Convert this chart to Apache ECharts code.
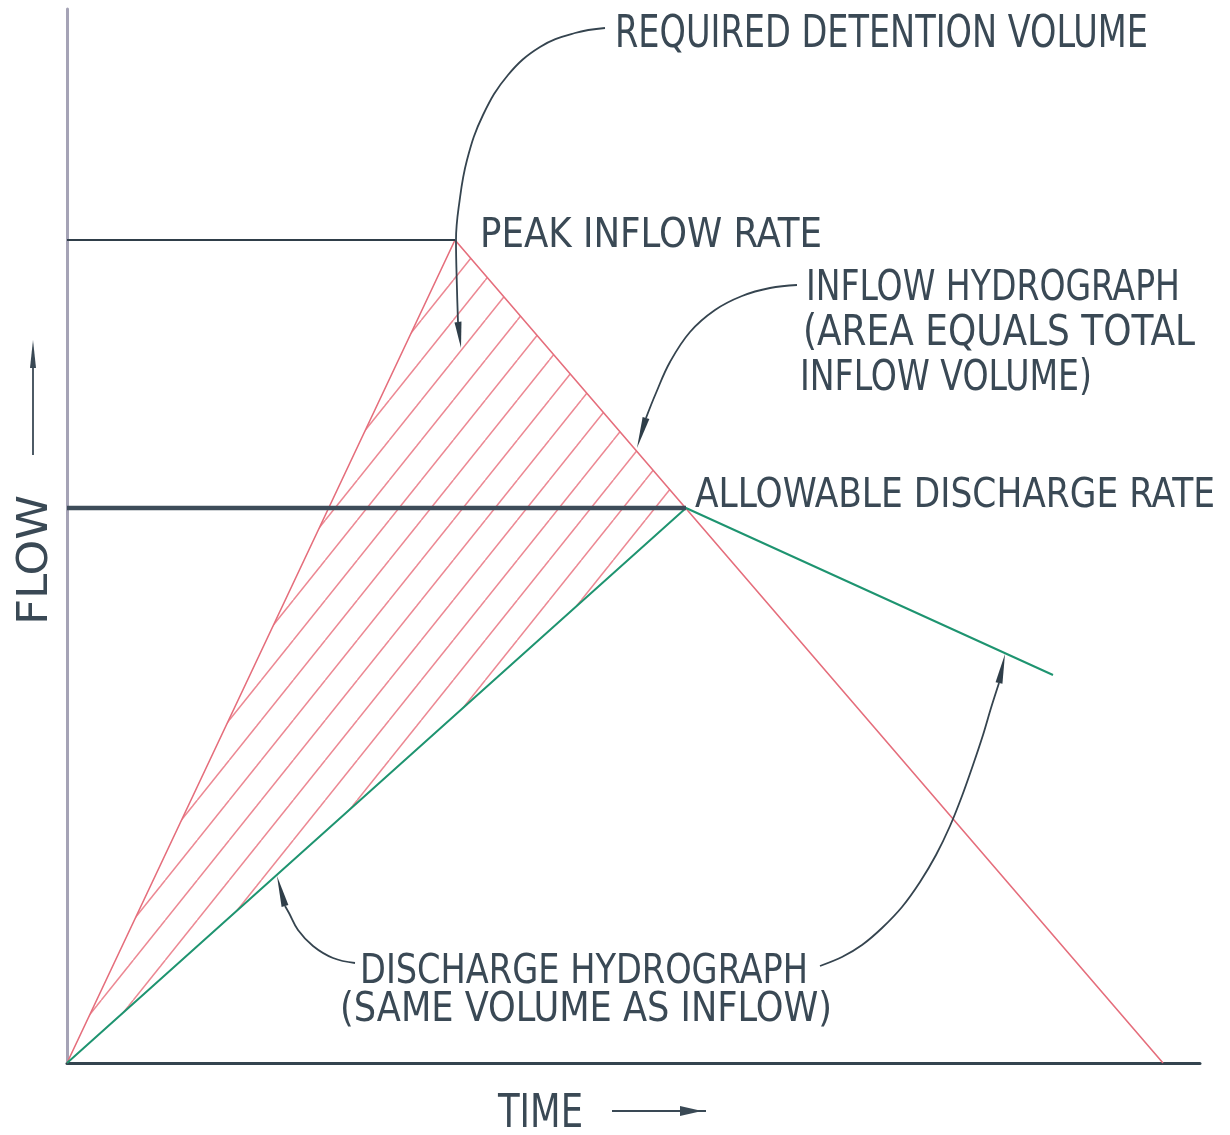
<!DOCTYPE html>
<html><head><meta charset="utf-8">
<script src="https://cdn.jsdelivr.net/npm/echarts@6/dist/echarts.min.js"></script>
<style>html,body{margin:0;padding:0;background:#fff}#c{width:1230px;height:1135px}</style>
</head><body><div id="c"></div>
<script>
// ---------- data (time / flow units) ----------
const inflowHydrograph    = [[0, 0], [38.8, 82.3], [109.6, 0]];
const dischargeHydrograph = [[0, 0], [61.9, 55.5], [98.6, 38.8]];
const peakInflowRate         = 82.3;
const peakInflowTime         = 38.8;
const allowableDischargeRate = 55.5;
const allowableTime          = 61.9;
const timeMax = 113.3;
const flowMax = 105.4;

// leader curves for the annotations
const leaderRequired  = [[53.8,103.5],[50.8,103.0],[47.3,101.6],[44.1,98.8],[41.6,94.8],[40.0,90.3],[39.2,85.8],[38.9,82.3],[39.0,77.3],[39.1,74.1]];
const leaderInflow    = [[73.0,77.8],[70.3,77.5],[67.5,76.7],[64.8,75.3],[62.3,73.1],[60.3,70.1],[58.9,67.0],[57.9,64.5]];
const leaderDischL    = [[28.8,10.0],[26.6,10.5],[24.6,11.7],[23.1,13.3],[22.2,15.0],[21.8,15.7]];
const leaderDischR    = [[75.3,9.7],[77.5,10.6],[79.5,11.8],[81.5,13.5],[83.5,15.6],[85.3,18.1],[86.9,20.8],[88.3,23.7],[89.5,26.7],[90.6,29.8],[91.6,32.8],[92.4,35.5],[93.2,38.0]];
// arrowheads: [baseTime, baseFlow, tipTime, tipFlow]
const leaderArrows = [
  [39.1, 74.1, 39.4, 71.5],
  [57.9, 64.5, 57.0, 61.5],
  [21.8, 15.7, 21.0, 18.7],
  [93.2, 38.0, 93.8, 40.9]
];

// detention-volume region: between inflow and discharge hydrographs
const detentionRegion = [inflowHydrograph[0], inflowHydrograph[1], dischargeHydrograph[1]];

const TEXT_COLOR = '#3a4955';
const RED = '#e56e7c';
const GREEN = '#1e9470';

// ---------- hatch pattern ----------
const tile = document.createElement('canvas');
tile.width = 32; tile.height = 40;
(function(){
  const c = tile.getContext('2d');
  c.strokeStyle = '#ec8893';
  c.lineWidth = 1.5;
  const phase = 5.4;
  for (let k = -2; k <= 2; k++) {
    c.beginPath();
    c.moveTo(phase + 32*k, 0);
    c.lineTo(phase + 32*k - 32, 40);
    c.stroke();
  }
})();
const hatch = { image: tile, repeat: 'repeat' };

// ---------- text helpers ----------
const FAMILY = '"Liberation Sans Narrow", "DejaVu Sans Condensed", "Liberation Sans", sans-serif';
const FS = 40;
const FONT = FS + 'px ' + FAMILY;
const mctx = document.createElement('canvas').getContext('2d');
mctx.font = FONT;
mctx.textBaseline = 'middle';
const hm = mctx.measureText('H');
const ASC = hm.actualBoundingBoxAscent, DESC = hm.actualBoundingBoxDescent;

function txt(str, l, r, t, b) {
  const w = mctx.measureText(str).width;
  const sy = (b - t) / (ASC + DESC);
  const sx = (r - l) / w;
  return { type: 'text', x: l, y: t + sy * ASC, scaleX: sx, scaleY: sy, silent: true, z: 10,
    style: { text: str, font: FONT, fill: TEXT_COLOR, align: 'left', verticalAlign: 'middle',
             textAlign: 'left', textVerticalAlign: 'middle' } };
}
function vtxt(str, capLeft, baseRight, bottomY, topY) {
  const w = mctx.measureText(str).width;
  const sy = (baseRight - capLeft) / (ASC + DESC);
  const sx = (bottomY - topY) / w;
  return { type: 'text', x: capLeft + sy * ASC, y: bottomY, rotation: Math.PI / 2, scaleX: sx, scaleY: sy, silent: true, z: 10,
    style: { text: str, font: FONT, fill: TEXT_COLOR, align: 'left', verticalAlign: 'middle',
             textAlign: 'left', textVerticalAlign: 'middle' } };
}

const labels = [
  txt('REQUIRED DETENTION VOLUME', 615, 1148, 14, 47),
  txt('PEAK INFLOW RATE', 480, 822, 216, 247),
  txt('INFLOW HYDROGRAPH', 806, 1180, 268, 300),
  txt('(AREA EQUALS TOTAL', 803, 1195, 313, 345),
  txt('INFLOW VOLUME)', 800, 1092, 358, 390),
  txt('ALLOWABLE DISCHARGE RATE', 695, 1215, 476, 507),
  txt('DISCHARGE HYDROGRAPH', 360, 808, 953, 983),
  txt('(SAME VOLUME AS INFLOW)', 340, 832, 990, 1021),
  txt('TIME', 498, 583, 1093, 1127),
  vtxt('FLOW', 15, 47, 625, 495),
  // axis-title arrows
  { type: 'line', shape: { x1: 33, y1: 455, x2: 33, y2: 360 }, style: { stroke: TEXT_COLOR, lineWidth: 1.8 }, silent: true },
  { type: 'polygon', shape: { points: [[33, 340], [36, 368], [30, 368]] }, style: { fill: TEXT_COLOR }, silent: true },
  { type: 'line', shape: { x1: 612, y1: 1111, x2: 706, y2: 1111 }, style: { stroke: TEXT_COLOR, lineWidth: 1.8 }, silent: true },
  { type: 'polygon', shape: { points: [[702, 1111], [680, 1106], [680, 1116]] }, style: { fill: TEXT_COLOR }, silent: true }
];

function lineSeries(data, color, width, z, smooth) {
  return { type: 'line', data: data, symbol: 'none', smooth: smooth || false, silent: true, z: z,
           lineStyle: { color: color, width: width }, animation: false };
}

const chart = echarts.init(document.getElementById('c'), null, { renderer: 'canvas' });
chart.setOption({
  backgroundColor: '#ffffff',
  animation: false,
  grid: { left: 67, right: 30, top: 9, bottom: 72 },
  xAxis: { type: 'value', min: 0, max: timeMax,
    axisLine: { show: true, onZero: true, lineStyle: { color: '#34444f', width: 3 } },
    axisTick: { show: false }, axisLabel: { show: false }, splitLine: { show: false } },
  yAxis: { type: 'value', min: 0, max: flowMax,
    axisLine: { show: true, onZero: true, lineStyle: { color: '#a5a3b6', width: 3 } },
    axisTick: { show: false }, axisLabel: { show: false }, splitLine: { show: false } },
  series: [
    { type: 'custom', silent: true, z: 1, data: [detentionRegion[0]],
      renderItem: function (params, api) {
        const pts = detentionRegion.map(function (p) { return api.coord(p); });
        return { type: 'polygon', shape: { points: pts }, style: { fill: hatch, stroke: null } };
      } },
    lineSeries(inflowHydrograph, RED, 1.6, 3),
    lineSeries(dischargeHydrograph, GREEN, 2, 3),
    lineSeries([[0, peakInflowRate], [peakInflowTime, peakInflowRate]], '#2f3e49', 2, 4),
    lineSeries([[0, allowableDischargeRate], [allowableTime, allowableDischargeRate]], '#3d4c59', 4.5, 4),
    lineSeries(leaderRequired, '#35444f', 1.8, 5, 0.4),
    lineSeries(leaderInflow, '#35444f', 1.8, 5, 0.4),
    lineSeries(leaderDischL, '#35444f', 1.8, 5, 0.4),
    lineSeries(leaderDischR, '#35444f', 1.8, 5, 0.3),
    { type: 'custom', silent: true, z: 6, data: leaderArrows,
      renderItem: function (params, api) {
        const b = api.coord([api.value(0), api.value(1)]);
        const t = api.coord([api.value(2), api.value(3)]);
        let dx = t[0] - b[0], dy = t[1] - b[1];
        const len = Math.sqrt(dx*dx + dy*dy); dx /= len; dy /= len;
        const w = 3.5;
        return { type: 'polygon', shape: { points: [t, [b[0] - dy*w, b[1] + dx*w], [b[0] + dy*w, b[1] - dx*w]] },
                 style: { fill: '#2f3e49' } };
      } }
  ],
  graphic: labels
});
</script>
</body></html>
